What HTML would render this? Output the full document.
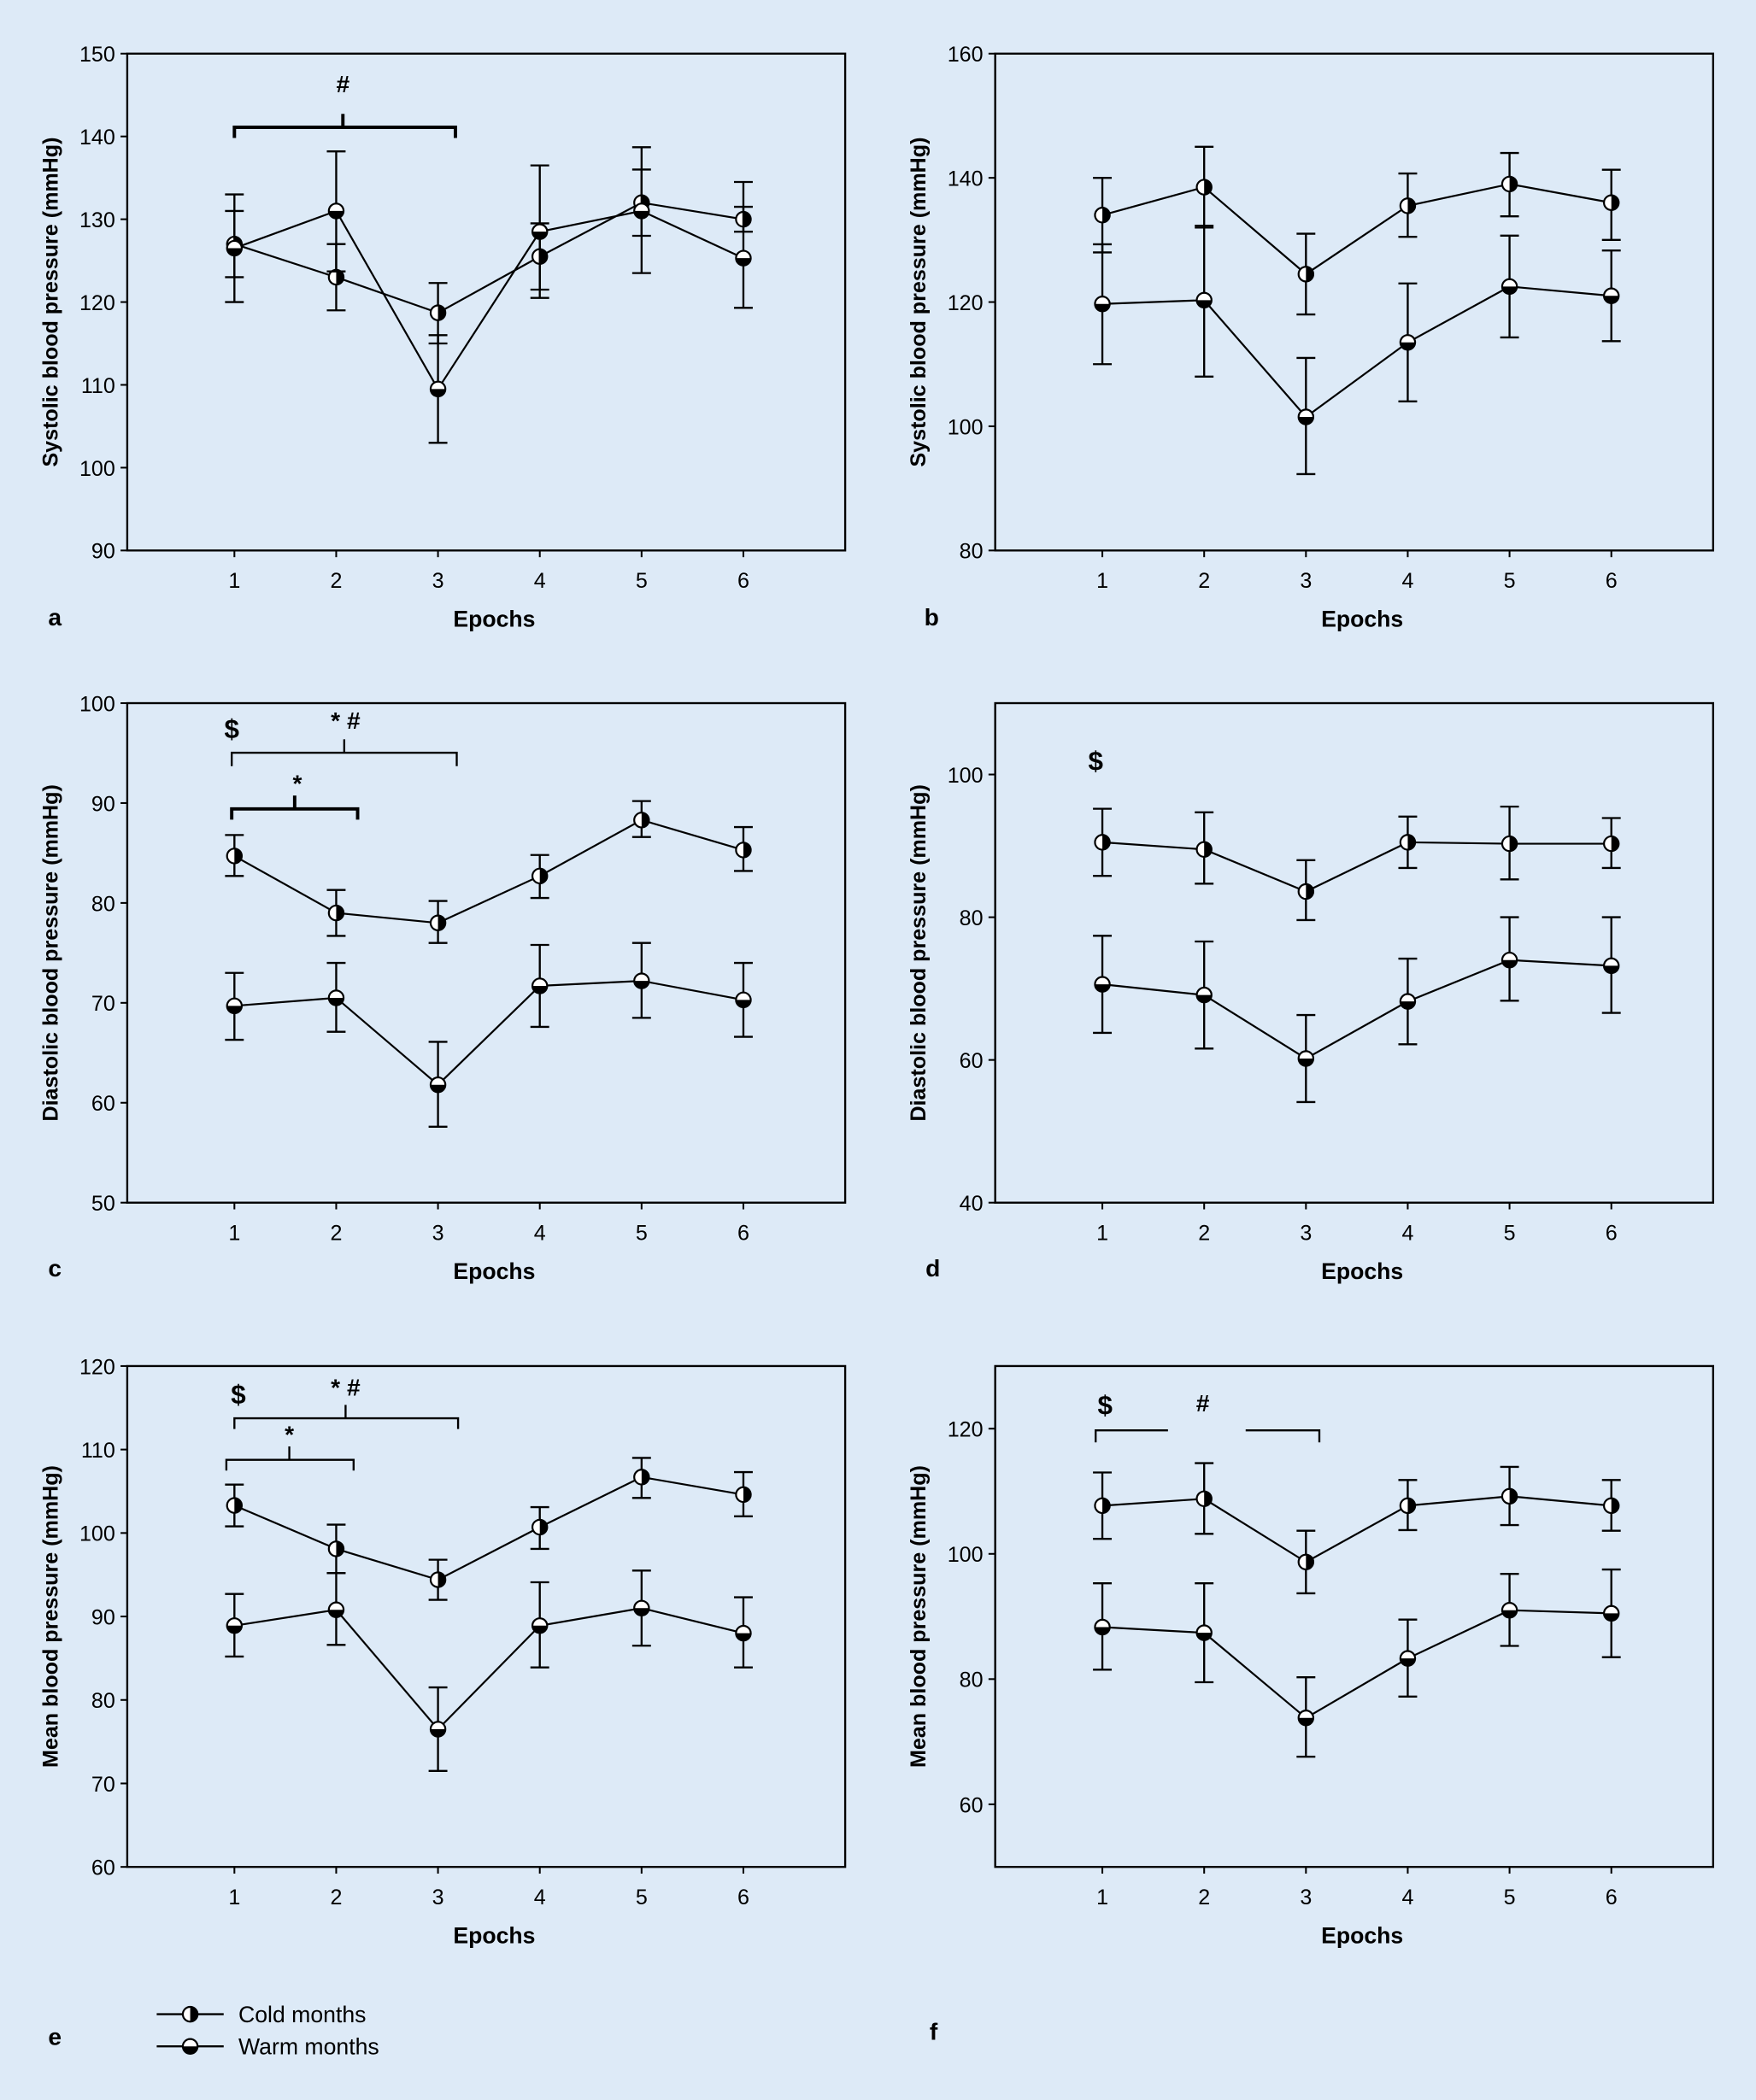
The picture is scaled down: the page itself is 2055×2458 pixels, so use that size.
<!DOCTYPE html>
<html><head><meta charset="utf-8"><style>
html,body{margin:0;padding:0;background:#ddeaf7;}
svg{display:block;}
text{font-family:"Liberation Sans",sans-serif;fill:#000;}
</style></head><body>
<svg id="fig" width="2055" height="2458" viewBox="0 0 1311 1568" xmlns="http://www.w3.org/2000/svg">
<rect x="0" y="0" width="1311" height="1568" fill="#ddeaf7"/>
</svg>
<script>
// Panel a: systolic
const aCold=[127,123,118.7,125.5,132,130];
const aColdHi=[131,127,122.3,129.5,136,131.5];
const aColdLo=[123,119,115,121.5,128,128.5];
const aWarm=[126.5,131,109.5,128.5,131,125.3];
const aWarmHi=[133,138.2,116,136.5,138.7,134.5];
const aWarmLo=[120,123.7,103,120.5,123.5,119.3];
// Panel b
const bCold=[134,138.5,124.5,135.5,139,136];
const bColdHi=[140,145,131,140.7,144,141.3];
const bColdLo=[128,132,118,130.5,133.8,130];
const bWarm=[119.7,120.3,101.5,113.5,122.5,121];
const bWarmHi=[129.3,132.3,111,123,130.7,128.3];
const bWarmLo=[110,108,92.3,104,114.3,113.7];
// Panel c
const cCold=[84.7,79,78,82.7,88.3,85.3];
const cColdHi=[86.8,81.3,80.2,84.8,90.2,87.6];
const cColdLo=[82.7,76.7,76,80.5,86.6,83.2];
const cWarm=[69.7,70.5,61.8,71.7,72.2,70.3];
const cWarmHi=[73,74,66.1,75.8,76,74];
const cWarmLo=[66.3,67.1,57.6,67.6,68.5,66.6];
// Panel d
const dCold=[90.5,89.5,83.6,90.5,90.3,90.3];
const dColdHi=[95.2,94.7,88,94.1,95.5,93.9];
const dColdLo=[85.8,84.7,79.6,86.9,85.3,86.9];
const dWarm=[70.6,69.1,60.2,68.2,74,73.2];
const dWarmHi=[77.4,76.6,66.3,74.2,80,80];
const dWarmLo=[63.8,61.6,54.1,62.2,68.3,66.6];
// Panel e
const eCold=[103.3,98.1,94.4,100.7,106.7,104.6];
const eColdHi=[105.8,101,96.8,103.1,109,107.3];
const eColdLo=[100.8,95.2,92,98.1,104.2,102];
const eWarm=[88.9,90.8,76.5,88.9,91,88];
const eWarmHi=[92.7,95.2,81.5,94.1,95.5,92.3];
const eWarmLo=[85.2,86.6,71.5,83.9,86.5,83.9];
// Panel f
const fCold=[107.7,108.8,98.7,107.7,109.2,107.7];
const fColdHi=[113,114.5,103.7,111.8,113.9,111.8];
const fColdLo=[102.4,103.2,93.7,103.8,104.6,103.7];
const fWarm=[88.3,87.4,73.8,83.3,91,90.5];
const fWarmHi=[95.3,95.3,80.3,89.5,96.8,97.5];
const fWarmLo=[81.5,79.5,67.6,77.2,85.3,83.5];
const epochs=[1,2,3,4,5,6];
const aTicks=[90,100,110,120,130,140,150];
const bTicks=[80,100,120,140,160];
const cTicks=[50,60,70,80,90,100];
const dTicks=[40,60,80,100];
const eTicks=[60,70,80,90,100,110,120];
const fTicks=[60,80,100,120];

const NS="http://www.w3.org/2000/svg";
const svg=document.getElementById('fig');
function el(tag,attrs,parent,txt){const e=document.createElementNS(NS,tag);for(const k in attrs)e.setAttribute(k,attrs[k]);if(txt!==undefined)e.textContent=txt;(parent||svg).appendChild(e);return e;}

const panels=[
 {id:'a',x0:95,x1:631,y0:40,y1:411,min:90,max:150,ticks:aTicks,title:'Systolic blood pressure (mmHg)',c:[aCold,aColdHi,aColdLo],w:[aWarm,aWarmHi,aWarmLo],lx:42,ly:467},
 {id:'b',x0:743,x1:1279,y0:40,y1:411,min:80,max:160,ticks:bTicks,title:'Systolic blood pressure (mmHg)',c:[bCold,bColdHi,bColdLo],w:[bWarm,bWarmHi,bWarmLo],lx:696,ly:467},
 {id:'c',x0:95,x1:631,y0:525,y1:898,min:50,max:100,ticks:cTicks,title:'Diastolic blood pressure (mmHg)',c:[cCold,cColdHi,cColdLo],w:[cWarm,cWarmHi,cWarmLo],lx:42,ly:953},
 {id:'d',x0:743,x1:1279,y0:525,y1:898,min:40,max:110,ticks:dTicks,title:'Diastolic blood pressure (mmHg)',c:[dCold,dColdHi,dColdLo],w:[dWarm,dWarmHi,dWarmLo],lx:697,ly:953},
 {id:'e',x0:95,x1:631,y0:1020,y1:1394,min:60,max:120,ticks:eTicks,title:'Mean blood pressure (mmHg)',c:[eCold,eColdHi,eColdLo],w:[eWarm,eWarmHi,eWarmLo],lx:42,ly:1527},
 {id:'f',x0:743,x1:1279,y0:1020,y1:1394,min:50,max:130,ticks:fTicks,title:'Mean blood pressure (mmHg)',c:[fCold,fColdHi,fColdLo],w:[fWarm,fWarmHi,fWarmLo],lx:700,ly:1523}
];

function marker(g,cx,cy,type){
  const r=5.5;
  el('circle',{cx:cx,cy:cy,r:r,fill:'#fff',stroke:'#000','stroke-width':1.4},g);
  if(type==='cold') el('path',{d:`M${cx},${cy-r} A${r},${r} 0 0 1 ${cx},${cy+r} Z`,fill:'#000'},g);
  else el('path',{d:`M${cx-r},${cy} A${r},${r} 0 0 0 ${cx+r},${cy} Z`,fill:'#000'},g);
}

panels.forEach(p=>{
  const g=el('g',{});
  
  
  const xs=v=>p.x0+80+(v-1)*76;
  const ys=v=>p.y1-(v-p.min)/(p.max-p.min)*(p.y1-p.y0);
  el('rect',{x:p.x0,y:p.y0,width:p.x1-p.x0,height:p.y1-p.y0,fill:'none',stroke:'#000','stroke-width':1.5},g);
  p.ticks.forEach(t=>{
    el('line',{x1:p.x0-5,x2:p.x0,y1:ys(t),y2:ys(t),stroke:'#000','stroke-width':1.3},g);
    const tl=el('text',{x:p.x0-9,y:ys(t)+6,'text-anchor':'end','font-size':16},g,String(t));
    
    
  });
  epochs.forEach(e=>{
    el('line',{x1:xs(e),x2:xs(e),y1:p.y1,y2:p.y1+5,stroke:'#000','stroke-width':1.3},g);
    const tl=el('text',{x:xs(e),y:p.y1+28,'text-anchor':'middle','font-size':16},g,String(e));
    
    
  });
  const xt=el('text',{x:(p.x0+p.x1)/2+6,y:p.y1+57,'text-anchor':'middle','font-size':17,'font-weight':'bold'},g,'Epochs');
  
  
  const ytx=p.x0-52, ytyy=(p.y0+p.y1)/2;
  const yt=el('text',{x:ytx,y:ytyy,'text-anchor':'middle','font-size':16,'font-weight':'bold',transform:`rotate(-90 ${ytx} ${ytyy})`},g,p.title);
  
  
  const pl=el('text',{x:p.lx-6,y:p.ly,'font-size':18,'font-weight':'bold'},g,p.id);
  
  
  [['cold',p.c],['warm',p.w]].forEach(([type,s])=>{
    const sg=el('g',{},g);
    
    
    el('polyline',{points:epochs.map((e,i)=>xs(e)+','+ys(s[0][i])).join(' '),fill:'none',stroke:'#000','stroke-width':1.4},sg);
    epochs.forEach((e,i)=>{
      const x=xs(e);
      el('line',{x1:x,x2:x,y1:ys(s[1][i]),y2:ys(s[2][i]),stroke:'#000','stroke-width':1.5},sg);
      el('line',{x1:x-7,x2:x+7,y1:ys(s[1][i]),y2:ys(s[1][i]),stroke:'#000','stroke-width':1.5},sg);
      el('line',{x1:x-7,x2:x+7,y1:ys(s[2][i]),y2:ys(s[2][i]),stroke:'#000','stroke-width':1.5},sg);
    });
    epochs.forEach((e,i)=>marker(sg,xs(e),ys(s[0][i]),type));
  });
});

// annotations
function bracket(x1,x2,y,drop,tick,w){
  el('path',{d:`M${x1},${y+drop} V${y} H${x2} V${y+drop}`,fill:'none',stroke:'#000','stroke-width':w});
  if(tick) el('line',{x1:tick,x2:tick,y1:y,y2:y-10,stroke:'#000','stroke-width':w});
}
function sym(x,y,t,s){const e=el('text',{x:x,y:y,'text-anchor':'middle','font-size':s||18,'font-weight':'bold'},svg,t);

}
bracket(175,340,95,8,256,2.5); sym(256,69,'#');
sym(173,551,'$',20); sym(258,544,'* #'); bracket(173,341,562,10,257,1.5);
sym(222,591,'*'); bracket(173,267,604,8,220,2.5);
sym(818,575,'$',20);
sym(178,1048,'$',20); sym(258,1042,'* #'); bracket(175,342,1059,8,258,1.5);
sym(216,1077,'*'); bracket(169,264,1090,8,216,1.5);
sym(825,1056,'$',20); sym(898,1054,'#');
el('path',{d:'M818,1077 V1068 H872',fill:'none',stroke:'#000','stroke-width':1.5});
el('path',{d:'M930,1068 H985 V1077',fill:'none',stroke:'#000','stroke-width':1.5});

// legend
const lg=el('g',{});


[['cold','Cold months',1504],['warm','Warm months',1528]].forEach(([t,l,y])=>{
  const eg=el('g',{},lg);
  
  
  el('line',{x1:117,x2:167,y1:y,y2:y,stroke:'#000','stroke-width':1.5},eg);
  marker(eg,142,y,t);
  el('text',{x:178,y:y+6,'font-size':17},eg,l);
});
</script>
</body></html>
